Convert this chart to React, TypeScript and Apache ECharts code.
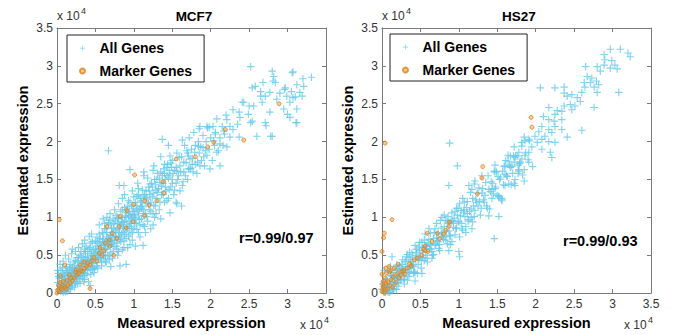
import React, { useEffect, useRef } from 'react';
import * as echarts from 'echarts';

// values in units of 10^4
const TITLES = ['MCF7', 'HS27'];
const R_TEXTS = ['r=0.99/0.97', 'r=0.99/0.93'];
const SERIES_NAMES = ['All Genes', 'Marker Genes'];

const MCF7_ALL: number[][] = [
  [0.02,0.05],[0.03,0.12],[0.05,0.02],[0.06,0.2],[0.08,0.1],[0.1,0.04],[0.1,0.18],[0.12,0.28],[0.13,0.12],[0.15,0.06],
  [0.15,0.22],[0.17,0.15],[0.18,0.32],[0.2,0.1],[0.2,0.25],[0.01,0.3],[0.04,0.38],[0.07,0.33],[0.22,0.18],[0.23,0.36],
  [0.25,0.28],[0.26,0.15],[0.27,0.42],[0.28,0.3],[0.3,0.22],[0.3,0.5],[0.32,0.35],[0.33,0.27],[0.35,0.44],[0.36,0.18],
  [0.37,0.55],[0.38,0.38],[0.4,0.3],[0.4,0.48],[0.42,0.4],[0.43,0.6],[0.44,0.25],[0.45,0.52],[0.47,0.44],[0.48,0.34],
  [0.5,0.58],[0.5,0.46],[0.15,0.45],[0.28,0.6],[0.33,0.65],[0.19,0.52],[0.41,0.15],[0.43,0.1],
  [0.52,0.4],[0.53,0.66],[0.55,0.52],[0.56,0.72],[0.57,0.45],[0.58,0.6],[0.6,0.5],[0.6,0.78],[0.62,0.66],[0.63,0.42],
  [0.64,0.85],[0.65,0.58],[0.67,0.72],[0.68,0.5],[0.7,0.64],[0.7,0.9],[0.72,0.8],[0.73,0.55],[0.75,0.7],[0.76,0.95],
  [0.77,0.62],[0.78,0.84],[0.8,0.75],[0.8,0.55],[0.45,0.78],[0.55,0.9],[0.65,1.0],[0.82,0.36],[0.7,0.35],[0.9,0.38],
  [0.82,0.9],[0.83,0.68],[0.85,1.0],[0.86,0.8],[0.87,0.6],[0.88,0.95],[0.9,0.72],[0.9,1.1],[0.92,0.85],[0.93,1.02],
  [0.95,0.78],[0.96,0.92],[0.97,1.15],[0.98,0.7],[1.0,1.0],[1.0,0.85],[1.02,1.2],[1.03,0.92],[1.05,1.08],[1.06,0.8],
  [1.08,1.25],[1.1,0.98],[1.1,1.12],[1.12,0.9],[1.14,1.3],[1.15,1.05],[1.16,1.18],[1.18,0.95],[1.2,1.1],[1.2,1.35],
  [0.75,1.1],[0.85,1.25],[0.98,1.35],[1.02,0.62],[1.15,0.8],[1.25,0.9],[0.81,1.42],[0.87,1.42],[0.67,1.88],[1.12,0.63],
  [1.27,1.0],[1.56,1.18],
  [1.22,1.2],[1.23,1.45],[1.25,1.05],[1.26,1.32],[1.28,1.15],[1.3,1.5],[1.3,1.25],[1.32,1.38],[1.33,1.1],[1.35,1.6],
  [1.36,1.3],[1.38,1.45],[1.4,1.2],[1.4,1.7],[1.42,1.35],[1.43,1.55],[1.45,1.25],[1.46,1.62],[1.48,1.4],[1.5,1.5],
  [1.5,1.75],[1.52,1.3],[1.53,1.62],[1.55,1.45],[1.56,1.85],[1.58,1.55],[1.6,1.68],[1.6,1.35],[1.25,1.62],[1.35,1.8],
  [1.45,1.95],[1.55,1.2],[1.62,1.15],[1.64,1.47],
  [1.62,1.8],[1.65,1.6],[1.66,1.95],[1.68,1.72],[1.7,1.5],[1.7,1.85],[1.72,2.05],[1.74,1.65],[1.75,1.9],[1.76,1.78],
  [1.78,2.12],[1.8,1.7],[1.8,1.95],[1.82,1.58],[1.84,2.0],[1.85,1.85],[1.86,2.2],[1.88,1.75],[1.9,1.92],[1.9,2.08],
  [1.92,1.68],[1.94,2.0],[1.95,1.82],[1.96,2.18],[1.98,1.9],[2.0,2.05],[2.02,1.75],[2.03,2.2],[2.05,1.95],[2.06,2.1],
  [2.08,2.3],[2.1,1.88],[2.12,2.05],[2.15,2.2],[2.16,1.95],[2.18,2.1],[2.2,2.35],
  [1.37,2.03],[1.63,2.02],[1.85,2.17],[1.98,2.19],[2.37,2.06],[2.6,2.07],[2.78,2.07],[3.12,2.25],[2.41,2.52],[2.52,2.25],
  [2.72,2.21],[2.52,2.99],[2.8,2.93],[2.82,2.86],[3.06,2.91],[3.31,2.85],[2.58,2.73],[2.65,2.66],[2.77,2.65],[2.97,2.71],
  [3.05,2.66],[3.12,2.75],[3.21,2.73],[2.43,2.52],[2.5,2.47],[2.67,2.52],[2.71,2.6],[2.86,2.56],[2.95,2.43],[3.03,2.52],
  [3.1,2.59],[3.19,2.6],[2.37,2.39],[2.38,2.32],[2.54,2.27],[2.77,2.39],[3.0,2.36],[2.25,2.2],[2.17,2.14],[2.04,2.01],
  [2.12,1.97],[2.21,1.93],[1.43,1.66],[1.56,1.61],[1.73,1.64],[1.86,1.68],[1.99,1.64],[2.12,1.68],[0.95,1.63],[1.13,1.6],
  [1.26,1.68],[2.54,2.71],[2.68,2.78],[2.81,2.8],[3.07,2.92],[2.96,2.69],[2.99,2.6],[3.07,2.58],[3.12,2.43],[3.16,2.65],
  [3.2,2.83],[3.03,2.32],[3.11,2.25],[2.65,2.6],[2.56,2.47],[2.49,2.36],[2.35,2.23],[2.8,2.07],[2.71,2.25],[2.29,2.16],
  [2.25,2.06],[2.08,1.86],[1.93,1.88],[1.84,1.94],[1.95,2.2],[2.06,2.12],[2.21,2.29],[2.29,2.42],[1.71,1.81],[1.76,1.7],
  [1.47,1.81],[2.84,2.78],[2.9,2.64],
  [0.05,0.08],[0.09,0.03],[0.11,0.14],[0.14,0.2],[0.16,0.09],[0.19,0.27],[0.21,0.21],[0.24,0.12],[0.26,0.33],[0.29,0.19],
  [0.31,0.4],[0.34,0.31],[0.36,0.26],[0.39,0.45],[0.41,0.36],[0.44,0.5],[0.46,0.39],[0.49,0.53],[0.51,0.49],[0.54,0.58],
  [0.56,0.47],[0.59,0.68],[0.61,0.57],[0.64,0.7],[0.66,0.62],[0.69,0.77],[0.71,0.69],[0.74,0.86],[0.77,0.74],[0.79,0.92],
  [0.81,0.8],[0.84,0.94],[0.87,0.86],[0.89,1.02],[0.91,0.9],[0.94,1.08],[0.97,0.98],[0.99,1.12],[1.01,1.04],[1.04,1.16],
  [1.07,1.1],[1.09,1.22],[1.11,1.15],[1.13,1.28],[1.17,1.24],[1.19,1.4],[1.21,1.3],[1.24,1.4],[1.27,1.5],[1.29,1.36],
  [1.31,1.58],[1.34,1.46],[1.37,1.55],[1.39,1.64],[1.41,1.5],[1.44,1.7],[1.47,1.56],[1.49,1.66],
  [0.35,0.52],[0.52,0.74],[0.62,0.85],[0.73,0.98],[0.93,1.22],[1.06,1.38],[1.18,1.52],[0.58,0.36],[0.68,0.44],[0.95,0.64],
  [0.03,0.2],[0.06,0.11],[0.07,0.26],[0.09,0.17],[0.12,0.09],[0.12,0.35],[0.14,0.27],[0.16,0.33],[0.17,0.05],[0.18,0.24],
  [0.21,0.3],[0.22,0.41],[0.23,0.08],[0.25,0.19],[0.26,0.47],[0.27,0.23],[0.29,0.36],[0.3,0.13],[0.32,0.48],[0.33,0.2],
  [0.34,0.39],[0.36,0.58],[0.37,0.31],[0.39,0.24],[0.4,0.55],[0.41,0.43],[0.43,0.33],[0.44,0.66],[0.45,0.41],[0.47,0.57],
  [0.48,0.27],[0.5,0.69],[0.51,0.36],[0.52,0.55],[0.54,0.47],[0.55,0.78],[0.57,0.63],[0.58,0.41],[0.6,0.71],[0.61,0.46],
  [0.62,0.92],[0.63,0.58],[0.65,0.8],[0.66,0.49],[0.67,0.93],[0.69,0.68],[0.7,0.53],[0.71,0.86],[0.73,0.74],[0.74,0.61],
  [0.76,0.82],[0.77,1.03],[0.78,0.66],[0.8,0.98],[0.81,0.71],[0.83,1.08],[0.84,0.78],[0.86,0.93],[0.87,0.69],[0.88,1.13],
  [0.9,0.82],[0.91,1.06],[0.93,0.75],[0.94,0.95],[0.95,1.2],[0.97,0.86],[0.98,1.04],[1.0,1.27],[1.01,0.92],[1.03,1.1],
  [1.04,0.84],[1.06,1.3],[1.07,0.97],[1.09,1.14],[1.11,1.36],[1.12,1.05],[1.14,0.88],[1.16,1.26],[1.17,1.01],[1.19,1.18],
  [1.21,1.44],[1.22,1.08],[1.24,1.27],[1.26,1.16],[1.28,1.43],[1.29,1.05],[1.31,1.33],[1.33,1.52],[1.34,1.2],[1.36,1.41],
  [1.38,1.3],[1.4,1.58],[1.41,1.4],[1.43,1.22],[1.45,1.52],[1.46,1.37],[1.48,1.72],[1.5,1.45],[1.51,1.58],[1.53,1.36],
  [1.55,1.66],[1.57,1.5],[1.59,1.79],[1.61,1.6],[1.63,1.42],[1.65,1.73],[1.67,1.55],[1.69,1.88],[1.71,1.64],[1.73,1.77],
  [1.77,1.6],[1.79,1.86],[1.83,1.73],[1.87,1.93],[1.91,1.8],[0.08,0.42],[0.11,0.5],[0.2,0.58],[0.24,0.55],[0.36,0.7],
  [0.42,0.75],[0.6,0.98],[0.69,1.05],[0.8,1.18],[0.88,1.3],[1.05,1.45],[1.13,1.55],[0.01,0.14],[0.02,0.22],[0.04,0.06],
  [0.05,0.3],[0.08,0.01],[0.1,0.23],[0.13,0.02],[0.19,0.13],[0.22,0.26],[0.27,0.13],[0.31,0.25],[0.35,0.15],[0.46,0.31],
  [0.53,0.33],[0.64,0.4],[0.72,0.46],[0.79,0.5],[0.85,0.57],[0.92,0.6],[1.08,0.74],[1.22,0.85],[1.35,0.98],[1.47,1.06],
  [0.02,0.26],[0.04,0.09],[0.06,0.15],[0.09,0.24],[0.11,0.02],[0.13,0.3],[0.15,0.17],[0.17,0.38],[0.18,0.07],[0.2,0.34],
  [0.23,0.24],[0.24,0.43],[0.26,0.2],[0.28,0.47],[0.3,0.3],[0.31,0.55],[0.33,0.42],[0.35,0.23],[0.37,0.47],[0.38,0.62],
  [0.4,0.39],[0.42,0.58],[0.44,0.45],[0.46,0.68],[0.47,0.5],[0.49,0.32],[0.51,0.62],[0.53,0.5],[0.55,0.68],[0.57,0.54],
  [0.59,0.8],[0.61,0.64],[0.63,0.5],[0.65,0.74],[0.67,0.64],[0.68,0.96],[0.7,0.76],[0.72,0.66],[0.74,0.92],[0.76,0.75],
  [0.78,0.58],[0.79,1.0],[0.81,0.85],[0.83,0.74],[0.85,1.1],[0.86,0.88],[0.88,0.77],[0.9,1.0],[0.92,1.15],[0.94,0.88],
  [0.96,1.02],[0.98,0.8],[1.0,1.08],[1.02,0.98],[1.04,1.28],[1.06,1.02],[1.08,0.9],[1.1,1.2],[1.13,1.1],[1.16,1.35]
];

const MCF7_MARKER: number[][] = [
  [0.03,0.97],[0.07,0.69],[1.01,1.56],[0.43,0.06],[1.55,1.77],[1.8,1.8],[1.96,1.93],[2.04,1.99],[2.19,2.16],[2.43,2.02],
  [2.89,2.5],[1.38,1.47],[1.39,1.32],[1.3,1.22],[1.14,1.22],[1.0,1.17],[1.14,1.02],[0.91,1.09],[0.99,0.94],[0.82,1.01],
  [0.81,0.88],[0.72,0.79],[0.78,0.72],[0.68,0.7],[0.74,0.5],[0.61,0.56],[0.56,0.6],[0.59,0.5],[0.52,0.42],[0.46,0.43],
  [0.43,0.37],[0.36,0.33],[0.33,0.29],[0.26,0.24],[0.22,0.2],[0.17,0.13],[0.13,0.17],[0.09,0.09],[0.05,0.07],[0.03,0.03],
  [0.1,0.37],[0.05,0.22],[0.65,0.88],[0.3,0.37],[0.69,0.62],[0.0,0.0],[0.02,0.1],[0.06,0.05],[0.08,0.15],[0.11,0.08],
  [0.14,0.1],[0.18,0.2],[0.2,0.16],[0.24,0.28],[0.28,0.26],[0.31,0.3],[0.38,0.35],[0.4,0.4],[0.01,0.04],[0.04,0.14],
  [0.12,0.05],[0.16,0.24],[0.48,0.47],[0.55,0.53],[0.63,0.66],[0.9,0.86],[1.2,1.16],[0.35,0.41],[0.25,0.31]
];

const HS27_ALL: number[][] = [
  [0.02,0.09],[0.05,0.02],[0.07,0.08],[0.1,0.01],[0.11,0.23],[0.14,0.14],[0.16,0.11],[0.19,0.23],[0.21,0.2],[0.22,0.31],
  [0.25,0.18],[0.28,0.3],[0.29,0.18],[0.31,0.41],[0.34,0.28],[0.36,0.54],[0.37,0.36],[0.4,0.49],[0.42,0.28],[0.45,0.5],
  [0.46,0.26],[0.48,0.61],[0.51,0.43],[0.53,0.54],[0.56,0.78],[0.57,0.46],[0.6,0.66],[0.62,0.59],[0.63,0.79],[0.66,0.5],
  [0.68,0.8],[0.7,0.65],[0.71,0.73],[0.74,0.59],[0.76,0.96],[0.77,0.77],[0.8,0.71],[0.81,0.88],[0.84,0.82],[0.86,1.01],
  [0.88,0.76],[0.9,0.94],[0.91,0.68],[0.94,0.99],[0.96,0.85],[0.99,1.12],[1.0,0.94],[1.03,1.09],[1.05,0.83],[1.06,1.07],
  [1.09,0.8],[1.11,1.21],[1.13,0.97],[1.16,1.11],[1.17,1.37],[1.2,1.01],[1.22,1.23],[1.25,1.15],[1.26,1.39],[1.28,1.03],
  [1.31,1.38],[1.33,1.2],[1.34,1.29],[1.37,1.12],[1.38,1.55],[1.41,1.34],[1.43,1.25],[1.44,1.45],[1.47,1.38],[1.49,1.6],
  [1.5,1.29],[1.53,1.5],[1.55,1.25],[1.57,1.61],[1.58,1.43],[1.61,1.75],[1.63,1.54],[1.66,1.69],[1.68,1.43],[1.69,1.67],
  [1.72,1.45],[1.74,1.81],[1.77,1.58],[1.79,1.71],[1.82,1.99],[1.85,1.63],[1.87,1.85],[1.9,1.76],[1.92,2.01],[1.96,1.67],
  [0.01,0.12],[0.03,0.02],[0.06,0.11],[0.08,0.01],[0.12,0.15],[0.13,0.03],[0.15,0.23],[0.18,0.13],[0.2,0.21],[0.23,0.36],
  [0.24,0.17],[0.27,0.31],[0.3,0.27],[0.32,0.48],[0.33,0.17],[0.35,0.47],[0.38,0.33],[0.39,0.41],[0.41,0.26],[0.43,0.63],
  [0.44,0.44],[0.47,0.38],[0.49,0.56],[0.5,0.48],[0.52,0.67],[0.55,0.43],[0.58,0.62],[0.59,0.41],[0.61,0.71],[0.64,0.58],
  [0.67,0.51],[0.69,0.85],[0.72,0.69],[0.73,0.79],[0.75,0.64],[0.78,1.0],[0.79,0.8],[0.82,0.74],[0.83,0.96],[0.85,0.65],
  [0.87,0.92],[0.89,0.75],[0.92,0.96],[0.93,0.87],[0.95,1.08],[0.97,0.86],[0.98,1.03],[1.01,0.74],[1.02,1.02],[1.04,0.85],
  [1.07,1.2],[1.08,1.01],[1.1,1.13],[1.12,0.95],[1.14,1.08],[1.15,1.33],[1.18,0.94],[1.19,1.15],[1.21,1.09],[1.24,1.32],
  [1.27,1.21],[1.29,1.12],[1.3,1.32],[1.32,1.23],[1.35,1.46],[1.36,1.15],[1.39,1.37],[1.4,1.11],[1.42,1.47],[1.45,1.31],
  [1.46,1.61],[1.48,1.4],[1.51,1.54],[1.52,1.27],[1.54,1.52],[1.56,1.24],[1.59,1.67],[1.6,1.42],[1.62,1.55],[1.64,1.82],
  [1.65,1.44],[1.67,1.66],[1.7,1.58],[1.71,1.81],[1.73,1.5],[1.76,1.81],[1.78,1.63],[1.8,1.73],[1.83,1.56],[1.86,2.01],
  [0.0,0.05],[0.02,0.15],[0.04,0.01],[0.05,0.19],[0.07,0.04],[0.08,0.28],[0.1,0.12],[0.12,0.27],[0.14,0.06],[0.16,0.2],
  [0.17,0.3],[0.19,0.05],[0.2,0.32],[0.22,0.14],[0.25,0.24],[0.26,0.38],[0.28,0.2],[0.3,0.42],[0.33,0.35],[0.36,0.27],
  [0.4,0.37],[0.44,0.54],[0.48,0.45],[0.53,0.6],[0.57,0.55],
  [0.03,0.3],[0.05,0.08],[0.07,0.16],[0.09,0.07],[0.11,0.35],[0.13,0.22],[0.15,0.05],[0.17,0.18],[0.19,0.37],[0.21,0.09],
  [0.23,0.26],[0.25,0.33],[0.27,0.44],[0.29,0.12],[0.31,0.31],[0.33,0.51],[0.35,0.22],[0.37,0.44],[0.39,0.53],[0.41,0.35],
  [0.43,0.27],[0.45,0.58],[0.47,0.48],[0.49,0.67],[0.51,0.33],[0.53,0.47],[0.55,0.7],[0.57,0.62],[0.59,0.5],[0.61,0.85],
  [0.63,0.64],[0.65,0.55],[0.67,0.72],[0.69,0.63],[0.71,0.92],[0.73,0.68],[0.75,0.56],[0.77,0.86],[0.79,0.74],[0.81,1.03],
  [0.83,0.7],[0.85,0.94],[0.87,0.82],[0.89,0.64],[0.91,1.06],[0.93,0.92],[0.95,0.77],[0.97,1.12],[0.99,0.95],[1.01,1.18],
  [1.03,0.92],[1.05,1.25],[1.07,1.1],[1.09,0.88],[1.11,1.05],[1.13,1.42],[1.16,1.0],[1.18,1.25],[1.2,1.44],[1.23,1.2],
  [0.13,0.48],[0.88,1.98],[0.98,1.68],[1.46,0.72],[1.0,0.55],[1.01,0.48],[0.87,0.56],[0.65,0.46],[0.52,0.26],[0.43,0.16],
  [1.39,1.02],[1.52,1.01],[1.17,0.85],[0.87,1.42],[1.21,1.48],[1.3,1.55],[1.47,1.6],[1.6,1.57],[1.78,1.61],[1.85,1.48],
  [1.73,1.42],[1.43,1.37],[1.52,1.28],[1.56,1.22],
  [2.97,3.22],[3.1,3.22],[3.2,3.17],[3.23,3.12],[2.89,3.15],[2.9,3.08],[2.99,3.07],[3.03,3.01],[2.89,3.01],[2.8,2.99],
  [2.97,2.97],[3.06,2.96],[2.65,2.99],[2.84,2.93],[3.08,2.65],[2.67,2.86],[2.73,2.84],[2.79,2.8],[2.63,2.78],[2.71,2.78],
  [2.82,2.75],[2.64,2.72],[2.76,2.72],[2.8,2.65],[2.6,2.65],[2.76,2.45],[2.6,2.15],[2.37,2.72],[2.25,2.71],[2.06,2.71],
  [2.37,2.64],[2.41,2.6],[2.47,2.62],[2.54,2.58],[2.58,2.53],[2.45,2.49],[2.51,2.47],[2.47,2.42],[2.37,2.47],[2.34,2.4],
  [2.17,2.45],[2.28,2.41],[2.25,2.36],[2.34,2.29],[2.24,2.27],[2.1,2.33],[2.17,2.29],[2.08,2.2],[2.17,2.16],[2.25,2.2],
  [2.34,2.16],[2.41,2.06],[2.21,2.12],[2.12,2.07],[2.04,2.13],[1.99,2.07],[2.08,2.03],[2.17,2.0],[2.25,1.99],[2.02,1.99],
  [1.91,2.03],[1.85,2.06],[1.82,1.94],[1.95,1.93],[2.08,1.9],[2.19,1.86],[2.21,1.79],[1.91,1.86],[1.78,1.86],[1.72,1.93],
  [1.67,1.81],[1.73,1.79],[1.82,1.77],[1.91,1.73],[1.72,1.73],[1.6,1.68],[1.47,1.69],[1.77,1.69],[1.64,1.74],[1.86,1.82]
];

const HS27_MARKER: number[][] = [
  [0.04,1.98],[1.94,2.32],[1.95,2.19],[1.31,1.67],[1.3,1.52],[1.24,1.31],[0.13,0.97],[0.03,0.79],[0.02,0.73],[0.0,0.55],
  [0.88,0.94],[0.87,0.88],[0.83,0.83],[0.72,0.79],[0.59,0.79],[0.56,0.62],[0.54,0.58],[0.52,0.5],[0.6,0.55],[0.46,0.46],
  [0.36,0.39],[0.33,0.33],[0.26,0.29],[0.2,0.26],[0.16,0.33],[0.09,0.35],[0.04,0.2],[0.02,0.09],[0.05,0.33],[0.06,0.27],
  [0.02,0.16],[0.21,0.38],[0.56,0.56],[0.0,0.02],[0.01,0.06],[0.03,0.0],[0.05,0.12],[0.07,0.05],[0.08,0.15],[0.1,0.1],
  [0.12,0.18],[0.14,0.08],[0.15,0.22],[0.18,0.14],[0.22,0.2],[0.25,0.24],[0.28,0.3],[0.3,0.25],[0.38,0.36],[0.42,0.44],
  [0.0,0.25],[0.01,0.12],[0.04,0.05],[0.1,0.28],[0.12,0.3],[0.65,0.68],[0.75,0.72],[0.8,0.78]
];

const FONT = "'Liberation Sans', Arial, Helvetica, sans-serif";
const PLUS = 'path://M0,4.25 L10,4.25 L10,5.75 L0,5.75 Z M4.25,0 L5.75,0 L5.75,10 L4.25,10 Z';
const CYAN = '#62C8EA';
const ORANGE = '#DF8218';
const AXIS_GRAY = '#7a7a7a';

const GRIDS = [
  { left: 57, top: 28, width: 269, height: 267 },
  { left: 382, top: 28, width: 269, height: 267 },
];

const NAME_STYLE = { fontSize: 14.5, fontWeight: 'bold', fontFamily: FONT, color: '#000' };

function xAxis(grid: number, pos: 'bottom' | 'top', main: boolean) {
  return {
    type: 'value', gridIndex: grid, position: pos, min: 0, max: 3.5, interval: 0.5,
    axisLine: { show: true, onZero: false, lineStyle: { color: AXIS_GRAY, width: 1 } },
    axisTick: { show: true, inside: true, length: 4, lineStyle: { color: AXIS_GRAY } },
    axisLabel: { show: main, color: '#333', fontSize: 12, fontFamily: FONT, margin: 5 },
    splitLine: { show: false },
    name: main ? 'Measured expression' : '',
    nameLocation: 'middle', nameGap: 19,
    nameTextStyle: NAME_STYLE,
  };
}
function yAxis(grid: number, pos: 'left' | 'right', main: boolean) {
  return {
    type: 'value', gridIndex: grid, position: pos, min: 0, max: 3.5, interval: 0.5,
    axisLine: { show: true, onZero: false, lineStyle: { color: AXIS_GRAY, width: 1 } },
    axisTick: { show: true, inside: true, length: 4, lineStyle: { color: AXIS_GRAY } },
    axisLabel: { show: main, color: '#333', fontSize: 12, fontFamily: FONT, margin: 4 },
    splitLine: { show: false },
    name: main ? 'Estimated expression' : '',
    nameLocation: 'middle', nameGap: 27,
    nameTextStyle: NAME_STYLE,
  };
}

function legend(left: number, top: number) {
  return {
    left, top, orient: 'vertical', padding: [6, 12, 4, 12], itemGap: 9,
    itemWidth: 24, itemHeight: 5, borderColor: '#222', borderWidth: 1, backgroundColor: '#fff',
    selectedMode: false,
    textStyle: { fontSize: 14, fontWeight: 'bold', fontFamily: FONT, color: '#000' },
    data: [{ name: SERIES_NAMES[0], icon: PLUS }, { name: SERIES_NAMES[1], icon: 'circle' }],
  };
}

function scatterPair(idx: number, all: number[][], marker: number[][]) {
  return [
    {
      type: 'scatter', name: SERIES_NAMES[0], xAxisIndex: idx * 2, yAxisIndex: idx * 2,
      data: all, symbol: PLUS, symbolSize: 7.5, itemStyle: { color: CYAN },
    },
    {
      type: 'scatter', name: SERIES_NAMES[1], xAxisIndex: idx * 2, yAxisIndex: idx * 2,
      data: marker, symbol: 'circle', symbolSize: 4,
      itemStyle: { color: 'rgba(230,140,50,0.55)', borderColor: ORANGE, borderWidth: 1 },
    },
  ];
}

function multiplier(left: number, top: number) {
  return [
    { type: 'text', left, top, style: { text: 'x 10', fontSize: 12, fontFamily: FONT, fill: '#333' } },
    { type: 'text', left: left + 24, top: top - 4, style: { text: '4', fontSize: 9, fontFamily: FONT, fill: '#333' } },
  ];
}

export default function App() {
  const ref = useRef<HTMLDivElement>(null);
  useEffect(() => {
    const chart = echarts.init(ref.current!, null, { renderer: 'svg' });
    chart.setOption({
      animation: false,
      backgroundColor: '#fff',
      title: [
        { text: TITLES[0], left: 189, top: 4, textAlign: 'center', textStyle: { fontSize: 13.5, fontWeight: 'bold', fontFamily: FONT, color: '#000' } },
        { text: TITLES[1], left: 514, top: 4, textAlign: 'center', textStyle: { fontSize: 13.5, fontWeight: 'bold', fontFamily: FONT, color: '#000' } },
      ],
      legend: [legend(67, 35), legend(390, 34)],
      grid: GRIDS,
      xAxis: [xAxis(0, 'bottom', true), xAxis(0, 'top', false), xAxis(1, 'bottom', true), xAxis(1, 'top', false)],
      yAxis: [yAxis(0, 'left', true), yAxis(0, 'right', false), yAxis(1, 'left', true), yAxis(1, 'right', false)],
      series: [...scatterPair(0, MCF7_ALL, MCF7_MARKER), ...scatterPair(1, HS27_ALL, HS27_MARKER)],
      graphic: [
        ...multiplier(57, 10),
        ...multiplier(382, 10),
        ...multiplier(300, 319),
        ...multiplier(624, 319),
        { type: 'text', left: 239, top: 230, style: { text: R_TEXTS[0], fontSize: 14.5, fontWeight: 'bold', fontFamily: FONT, fill: '#000' } },
        { type: 'text', left: 563, top: 233, style: { text: R_TEXTS[1], fontSize: 14.5, fontWeight: 'bold', fontFamily: FONT, fill: '#000' } },
      ],
    });
    return () => chart.dispose();
  }, []);
  return <div ref={ref} style={{ position: 'fixed', left: 0, top: 0, width: 677, height: 335 }} />;
}
